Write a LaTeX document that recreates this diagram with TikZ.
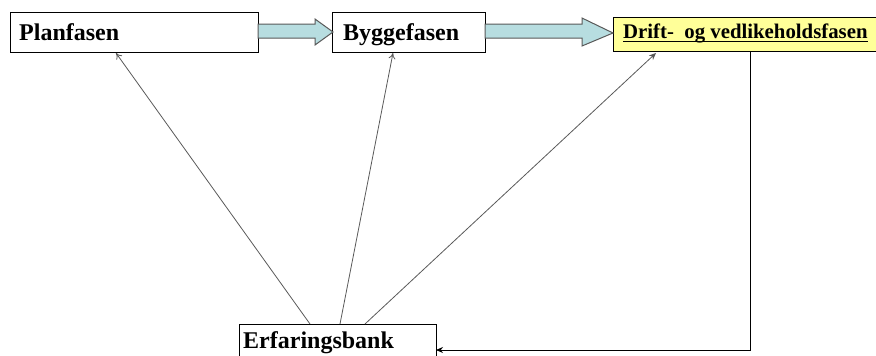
\documentclass[tikz,border=0pt]{standalone}
\usepackage{fontspec}
\setmainfont{Liberation Serif}
\usetikzlibrary{arrows.meta}
\definecolor{blockfill}{HTML}{B7DDE0}
\definecolor{driftfill}{HTML}{FFFF99}
\tikzset{
  box/.style={draw=black, line width=0.9pt, fill=white, rectangle, inner sep=0pt, anchor=north west},
  lbl/.style={anchor=base west, inner sep=0pt, font=\fontsize{24}{28}\selectfont\bfseries},
  blockarrow/.style={draw=black!65, line width=1pt, fill=blockfill, line join=miter},
  feed/.style={draw=black!65, line width=0.8pt},
}
\begin{document}
\begin{tikzpicture}[x=1pt,y=-1pt]
\useasboundingbox (0,0) rectangle (876,356);
% boxes
\node[box, minimum width=248pt, minimum height=40pt] (plan) at (10,12) {};
\node[box, minimum width=153pt, minimum height=40pt] (bygg) at (332,12) {};
\node[box, fill=driftfill, minimum width=266pt, minimum height=34pt] (drift) at (613,17) {};
\node[box, minimum width=197pt, minimum height=40pt] (erf) at (239,324) {};
% labels
\node[lbl] (tplan) at (19,40) {Planfasen};
\node[lbl] (tbygg) at (343,40) {Byggefasen};
\node[lbl, font=\fontsize{20.8}{24}\selectfont\bfseries] (tdrift) at (623,38) {Drift-\ \ og vedlikeholdsfasen};
\draw[line width=1.4pt] ([yshift=-3.5pt]tdrift.base west) -- ([yshift=-3.5pt]tdrift.base east);
\node[lbl] (terf) at (243,348) {Erfaringsbank};
% block arrows
\draw[blockarrow] (258,24) -- (315,24) -- (315,19) -- (333,32) -- (315,45) -- (315,38) -- (258,38) -- cycle;
\draw[blockarrow] (485,24) -- (582,24) -- (582,18) -- (613,33) -- (582,46) -- (582,38) -- (485,38) -- cycle;
% feedback lines
\coordinate (e1) at (310,324);
\coordinate (e2) at (340,324);
\coordinate (e3) at (365,324);
\coordinate (p1) at (116,53);
\coordinate (b1) at (393,53);
\coordinate (d1) at (656,53);
\draw[feed, -{To[length=6pt,width=7pt]}] (e1) -- (p1);
\draw[feed, -{To[length=6pt,width=7pt]}] (e2) -- (b1);
\draw[feed, -{Stealth[length=7pt,width=6pt]}] (e3) -- (d1);
\coordinate (dd) at (750,51);
\coordinate (dc) at (750,350);
\coordinate (ee) at (436,350);
\draw[draw=black, line width=0.9pt, -{Stealth[length=7pt,width=6pt]}] (dd) -- (dc) -- (ee);
\end{tikzpicture}
\end{document}
